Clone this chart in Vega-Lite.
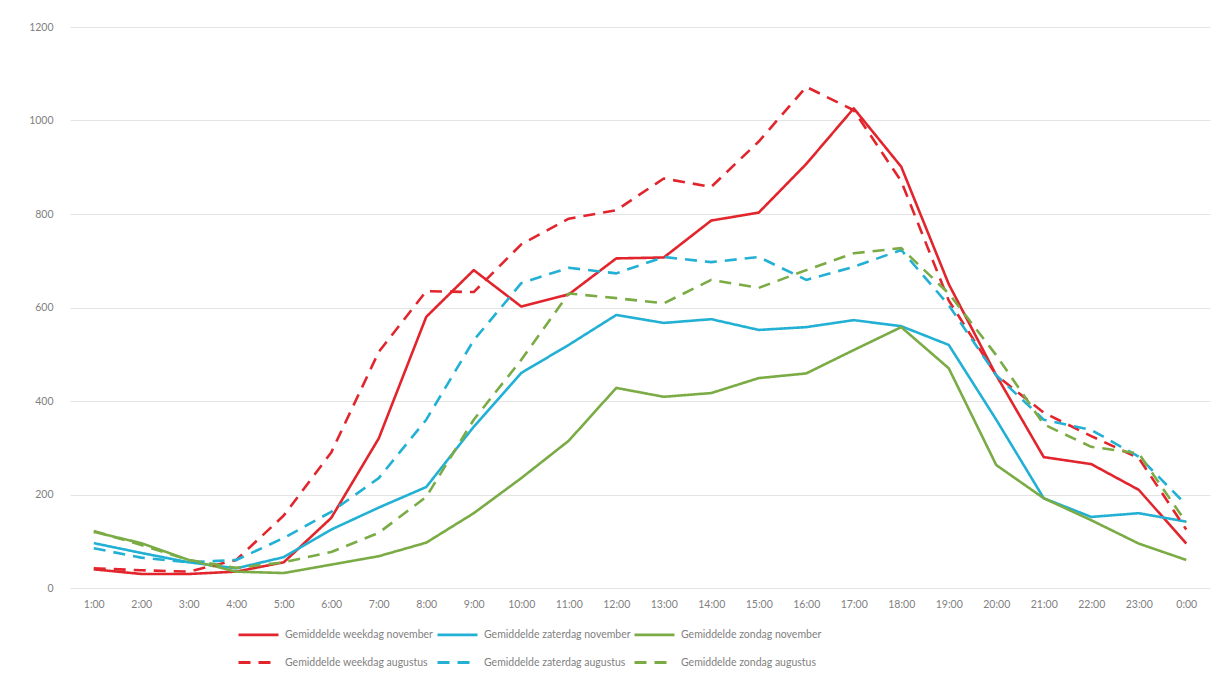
{
  "$schema": "https://vega.github.io/schema/vega-lite/v6.json",
  "autosize": "none",
  "padding": {"left": 70, "top": 27, "right": 10, "bottom": 99},
  "width": 1140,
  "height": 561,
  "background": "#ffffff",
  "config": {
    "view": {"stroke": null},
    "font": "Lato"
  },
  "datasets": {
    "verkeer": [
      {"uur": "1:00", "reeks": "Gemiddelde weekdag november", "waarde": 40},
      {"uur": "2:00", "reeks": "Gemiddelde weekdag november", "waarde": 30},
      {"uur": "3:00", "reeks": "Gemiddelde weekdag november", "waarde": 30},
      {"uur": "4:00", "reeks": "Gemiddelde weekdag november", "waarde": 35},
      {"uur": "5:00", "reeks": "Gemiddelde weekdag november", "waarde": 55},
      {"uur": "6:00", "reeks": "Gemiddelde weekdag november", "waarde": 150},
      {"uur": "7:00", "reeks": "Gemiddelde weekdag november", "waarde": 320},
      {"uur": "8:00", "reeks": "Gemiddelde weekdag november", "waarde": 580},
      {"uur": "9:00", "reeks": "Gemiddelde weekdag november", "waarde": 680},
      {"uur": "10:00", "reeks": "Gemiddelde weekdag november", "waarde": 602},
      {"uur": "11:00", "reeks": "Gemiddelde weekdag november", "waarde": 628},
      {"uur": "12:00", "reeks": "Gemiddelde weekdag november", "waarde": 705},
      {"uur": "13:00", "reeks": "Gemiddelde weekdag november", "waarde": 707},
      {"uur": "14:00", "reeks": "Gemiddelde weekdag november", "waarde": 786},
      {"uur": "15:00", "reeks": "Gemiddelde weekdag november", "waarde": 803},
      {"uur": "16:00", "reeks": "Gemiddelde weekdag november", "waarde": 907},
      {"uur": "17:00", "reeks": "Gemiddelde weekdag november", "waarde": 1026},
      {"uur": "18:00", "reeks": "Gemiddelde weekdag november", "waarde": 901},
      {"uur": "19:00", "reeks": "Gemiddelde weekdag november", "waarde": 650},
      {"uur": "20:00", "reeks": "Gemiddelde weekdag november", "waarde": 455},
      {"uur": "21:00", "reeks": "Gemiddelde weekdag november", "waarde": 280},
      {"uur": "22:00", "reeks": "Gemiddelde weekdag november", "waarde": 265},
      {"uur": "23:00", "reeks": "Gemiddelde weekdag november", "waarde": 210},
      {"uur": "0:00", "reeks": "Gemiddelde weekdag november", "waarde": 95},

      {"uur": "1:00", "reeks": "Gemiddelde zaterdag november", "waarde": 96},
      {"uur": "2:00", "reeks": "Gemiddelde zaterdag november", "waarde": 75},
      {"uur": "3:00", "reeks": "Gemiddelde zaterdag november", "waarde": 55},
      {"uur": "4:00", "reeks": "Gemiddelde zaterdag november", "waarde": 42},
      {"uur": "5:00", "reeks": "Gemiddelde zaterdag november", "waarde": 66},
      {"uur": "6:00", "reeks": "Gemiddelde zaterdag november", "waarde": 125},
      {"uur": "7:00", "reeks": "Gemiddelde zaterdag november", "waarde": 172},
      {"uur": "8:00", "reeks": "Gemiddelde zaterdag november", "waarde": 216},
      {"uur": "9:00", "reeks": "Gemiddelde zaterdag november", "waarde": 345},
      {"uur": "10:00", "reeks": "Gemiddelde zaterdag november", "waarde": 460},
      {"uur": "11:00", "reeks": "Gemiddelde zaterdag november", "waarde": 520},
      {"uur": "12:00", "reeks": "Gemiddelde zaterdag november", "waarde": 584},
      {"uur": "13:00", "reeks": "Gemiddelde zaterdag november", "waarde": 567},
      {"uur": "14:00", "reeks": "Gemiddelde zaterdag november", "waarde": 575},
      {"uur": "15:00", "reeks": "Gemiddelde zaterdag november", "waarde": 552},
      {"uur": "16:00", "reeks": "Gemiddelde zaterdag november", "waarde": 558},
      {"uur": "17:00", "reeks": "Gemiddelde zaterdag november", "waarde": 573},
      {"uur": "18:00", "reeks": "Gemiddelde zaterdag november", "waarde": 560},
      {"uur": "19:00", "reeks": "Gemiddelde zaterdag november", "waarde": 520},
      {"uur": "20:00", "reeks": "Gemiddelde zaterdag november", "waarde": 360},
      {"uur": "21:00", "reeks": "Gemiddelde zaterdag november", "waarde": 192},
      {"uur": "22:00", "reeks": "Gemiddelde zaterdag november", "waarde": 152},
      {"uur": "23:00", "reeks": "Gemiddelde zaterdag november", "waarde": 160},
      {"uur": "0:00", "reeks": "Gemiddelde zaterdag november", "waarde": 142},

      {"uur": "1:00", "reeks": "Gemiddelde zondag november", "waarde": 120},
      {"uur": "2:00", "reeks": "Gemiddelde zondag november", "waarde": 96},
      {"uur": "3:00", "reeks": "Gemiddelde zondag november", "waarde": 60},
      {"uur": "4:00", "reeks": "Gemiddelde zondag november", "waarde": 35},
      {"uur": "5:00", "reeks": "Gemiddelde zondag november", "waarde": 32},
      {"uur": "6:00", "reeks": "Gemiddelde zondag november", "waarde": 50},
      {"uur": "7:00", "reeks": "Gemiddelde zondag november", "waarde": 68},
      {"uur": "8:00", "reeks": "Gemiddelde zondag november", "waarde": 97},
      {"uur": "9:00", "reeks": "Gemiddelde zondag november", "waarde": 160},
      {"uur": "10:00", "reeks": "Gemiddelde zondag november", "waarde": 235},
      {"uur": "11:00", "reeks": "Gemiddelde zondag november", "waarde": 315},
      {"uur": "12:00", "reeks": "Gemiddelde zondag november", "waarde": 428},
      {"uur": "13:00", "reeks": "Gemiddelde zondag november", "waarde": 409},
      {"uur": "14:00", "reeks": "Gemiddelde zondag november", "waarde": 417},
      {"uur": "15:00", "reeks": "Gemiddelde zondag november", "waarde": 449},
      {"uur": "16:00", "reeks": "Gemiddelde zondag november", "waarde": 459},
      {"uur": "17:00", "reeks": "Gemiddelde zondag november", "waarde": 509},
      {"uur": "18:00", "reeks": "Gemiddelde zondag november", "waarde": 558},
      {"uur": "19:00", "reeks": "Gemiddelde zondag november", "waarde": 470},
      {"uur": "20:00", "reeks": "Gemiddelde zondag november", "waarde": 263},
      {"uur": "21:00", "reeks": "Gemiddelde zondag november", "waarde": 192},
      {"uur": "22:00", "reeks": "Gemiddelde zondag november", "waarde": 145},
      {"uur": "23:00", "reeks": "Gemiddelde zondag november", "waarde": 95},
      {"uur": "0:00", "reeks": "Gemiddelde zondag november", "waarde": 60},

      {"uur": "1:00", "reeks": "Gemiddelde weekdag augustus", "waarde": 42},
      {"uur": "2:00", "reeks": "Gemiddelde weekdag augustus", "waarde": 38},
      {"uur": "3:00", "reeks": "Gemiddelde weekdag augustus", "waarde": 35},
      {"uur": "4:00", "reeks": "Gemiddelde weekdag augustus", "waarde": 60},
      {"uur": "5:00", "reeks": "Gemiddelde weekdag augustus", "waarde": 155},
      {"uur": "6:00", "reeks": "Gemiddelde weekdag augustus", "waarde": 290},
      {"uur": "7:00", "reeks": "Gemiddelde weekdag augustus", "waarde": 505},
      {"uur": "8:00", "reeks": "Gemiddelde weekdag augustus", "waarde": 635},
      {"uur": "9:00", "reeks": "Gemiddelde weekdag augustus", "waarde": 633},
      {"uur": "10:00", "reeks": "Gemiddelde weekdag augustus", "waarde": 735},
      {"uur": "11:00", "reeks": "Gemiddelde weekdag augustus", "waarde": 790},
      {"uur": "12:00", "reeks": "Gemiddelde weekdag augustus", "waarde": 808},
      {"uur": "13:00", "reeks": "Gemiddelde weekdag augustus", "waarde": 876},
      {"uur": "14:00", "reeks": "Gemiddelde weekdag augustus", "waarde": 858},
      {"uur": "15:00", "reeks": "Gemiddelde weekdag augustus", "waarde": 955},
      {"uur": "16:00", "reeks": "Gemiddelde weekdag augustus", "waarde": 1072},
      {"uur": "17:00", "reeks": "Gemiddelde weekdag augustus", "waarde": 1022},
      {"uur": "18:00", "reeks": "Gemiddelde weekdag augustus", "waarde": 870},
      {"uur": "19:00", "reeks": "Gemiddelde weekdag augustus", "waarde": 615},
      {"uur": "20:00", "reeks": "Gemiddelde weekdag augustus", "waarde": 455},
      {"uur": "21:00", "reeks": "Gemiddelde weekdag augustus", "waarde": 375},
      {"uur": "22:00", "reeks": "Gemiddelde weekdag augustus", "waarde": 325},
      {"uur": "23:00", "reeks": "Gemiddelde weekdag augustus", "waarde": 278},
      {"uur": "0:00", "reeks": "Gemiddelde weekdag augustus", "waarde": 125},

      {"uur": "1:00", "reeks": "Gemiddelde zaterdag augustus", "waarde": 85},
      {"uur": "2:00", "reeks": "Gemiddelde zaterdag augustus", "waarde": 65},
      {"uur": "3:00", "reeks": "Gemiddelde zaterdag augustus", "waarde": 55},
      {"uur": "4:00", "reeks": "Gemiddelde zaterdag augustus", "waarde": 60},
      {"uur": "5:00", "reeks": "Gemiddelde zaterdag augustus", "waarde": 107},
      {"uur": "6:00", "reeks": "Gemiddelde zaterdag augustus", "waarde": 163},
      {"uur": "7:00", "reeks": "Gemiddelde zaterdag augustus", "waarde": 235},
      {"uur": "8:00", "reeks": "Gemiddelde zaterdag augustus", "waarde": 360},
      {"uur": "9:00", "reeks": "Gemiddelde zaterdag augustus", "waarde": 530},
      {"uur": "10:00", "reeks": "Gemiddelde zaterdag augustus", "waarde": 652},
      {"uur": "11:00", "reeks": "Gemiddelde zaterdag augustus", "waarde": 685},
      {"uur": "12:00", "reeks": "Gemiddelde zaterdag augustus", "waarde": 673},
      {"uur": "13:00", "reeks": "Gemiddelde zaterdag augustus", "waarde": 708},
      {"uur": "14:00", "reeks": "Gemiddelde zaterdag augustus", "waarde": 697},
      {"uur": "15:00", "reeks": "Gemiddelde zaterdag augustus", "waarde": 708},
      {"uur": "16:00", "reeks": "Gemiddelde zaterdag augustus", "waarde": 659},
      {"uur": "17:00", "reeks": "Gemiddelde zaterdag augustus", "waarde": 687},
      {"uur": "18:00", "reeks": "Gemiddelde zaterdag augustus", "waarde": 723},
      {"uur": "19:00", "reeks": "Gemiddelde zaterdag augustus", "waarde": 605},
      {"uur": "20:00", "reeks": "Gemiddelde zaterdag augustus", "waarde": 455},
      {"uur": "21:00", "reeks": "Gemiddelde zaterdag augustus", "waarde": 360},
      {"uur": "22:00", "reeks": "Gemiddelde zaterdag augustus", "waarde": 338},
      {"uur": "23:00", "reeks": "Gemiddelde zaterdag augustus", "waarde": 281},
      {"uur": "0:00", "reeks": "Gemiddelde zaterdag augustus", "waarde": 178},

      {"uur": "1:00", "reeks": "Gemiddelde zondag augustus", "waarde": 122},
      {"uur": "2:00", "reeks": "Gemiddelde zondag augustus", "waarde": 92},
      {"uur": "3:00", "reeks": "Gemiddelde zondag augustus", "waarde": 60},
      {"uur": "4:00", "reeks": "Gemiddelde zondag augustus", "waarde": 43},
      {"uur": "5:00", "reeks": "Gemiddelde zondag augustus", "waarde": 55},
      {"uur": "6:00", "reeks": "Gemiddelde zondag augustus", "waarde": 77},
      {"uur": "7:00", "reeks": "Gemiddelde zondag augustus", "waarde": 118},
      {"uur": "8:00", "reeks": "Gemiddelde zondag augustus", "waarde": 195},
      {"uur": "9:00", "reeks": "Gemiddelde zondag augustus", "waarde": 360},
      {"uur": "10:00", "reeks": "Gemiddelde zondag augustus", "waarde": 488},
      {"uur": "11:00", "reeks": "Gemiddelde zondag augustus", "waarde": 630},
      {"uur": "12:00", "reeks": "Gemiddelde zondag augustus", "waarde": 620},
      {"uur": "13:00", "reeks": "Gemiddelde zondag augustus", "waarde": 609},
      {"uur": "14:00", "reeks": "Gemiddelde zondag augustus", "waarde": 659},
      {"uur": "15:00", "reeks": "Gemiddelde zondag augustus", "waarde": 642},
      {"uur": "16:00", "reeks": "Gemiddelde zondag augustus", "waarde": 680},
      {"uur": "17:00", "reeks": "Gemiddelde zondag augustus", "waarde": 716},
      {"uur": "18:00", "reeks": "Gemiddelde zondag augustus", "waarde": 727},
      {"uur": "19:00", "reeks": "Gemiddelde zondag augustus", "waarde": 630},
      {"uur": "20:00", "reeks": "Gemiddelde zondag augustus", "waarde": 498},
      {"uur": "21:00", "reeks": "Gemiddelde zondag augustus", "waarde": 350},
      {"uur": "22:00", "reeks": "Gemiddelde zondag augustus", "waarde": 302},
      {"uur": "23:00", "reeks": "Gemiddelde zondag augustus", "waarde": 288},
      {"uur": "0:00", "reeks": "Gemiddelde zondag augustus", "waarde": 140}
    ]
  },
  "data": {"name": "verkeer"},
  "mark": {"type": "line", "strokeWidth": 2.6, "strokeJoin": "round"},
  "encoding": {
    "x": {
      "field": "uur",
      "type": "ordinal",
      "sort": ["1:00","2:00","3:00","4:00","5:00","6:00","7:00","8:00","9:00","10:00","11:00","12:00","13:00","14:00","15:00","16:00","17:00","18:00","19:00","20:00","21:00","22:00","23:00","0:00"],
      "scale": {"type": "point", "padding": 0.5},
      "axis": {
        "title": null,
        "domain": false,
        "ticks": false,
        "grid": false,
        "labelAngle": 0,
        "labelFontSize": 10.5,
        "labelColor": "#7f7f7f",
        "labelPadding": 11
      }
    },
    "y": {
      "field": "waarde",
      "type": "quantitative",
      "scale": {"domain": [0, 1200], "nice": false},
      "axis": {
        "title": null,
        "values": [0, 200, 400, 600, 800, 1000, 1200],
        "format": "d",
        "domain": false,
        "ticks": false,
        "gridColor": "#e4e4e4",
        "gridWidth": 1,
        "labelFontSize": 10.5,
        "labelColor": "#7f7f7f",
        "labelPadding": 17
      }
    },
    "color": {
      "field": "reeks",
      "type": "nominal",
      "scale": {
        "domain": ["Gemiddelde weekdag november", "Gemiddelde zaterdag november", "Gemiddelde zondag november", "Gemiddelde weekdag augustus", "Gemiddelde zaterdag augustus", "Gemiddelde zondag augustus"],
        "range": ["#e2252d", "#22b0d4", "#7aab45", "#e2252d", "#22b0d4", "#7aab45"]
      },
      "legend": {
        "title": null,
        "orient": "none",
        "legendX": 167,
        "legendY": 586,
        "direction": "horizontal",
        "columns": 3,
        "columnPadding": -3,
        "rowPadding": -12,
        "symbolType": "stroke",
        "symbolSize": 1600,
        "symbolStrokeWidth": 2.8,
        "labelFontSize": 10.5,
        "labelColor": "#7f7f7f",
        "labelOffset": 5,
        "labelLimit": 200
      }
    },
    "strokeDash": {
      "field": "reeks",
      "type": "nominal",
      "scale": {
        "domain": ["Gemiddelde weekdag november", "Gemiddelde zaterdag november", "Gemiddelde zondag november", "Gemiddelde weekdag augustus", "Gemiddelde zaterdag augustus", "Gemiddelde zondag augustus"],
        "range": [[1, 0], [1, 0], [1, 0], [12, 8], [12, 8], [12, 8]]
      }
    }
  }
}
